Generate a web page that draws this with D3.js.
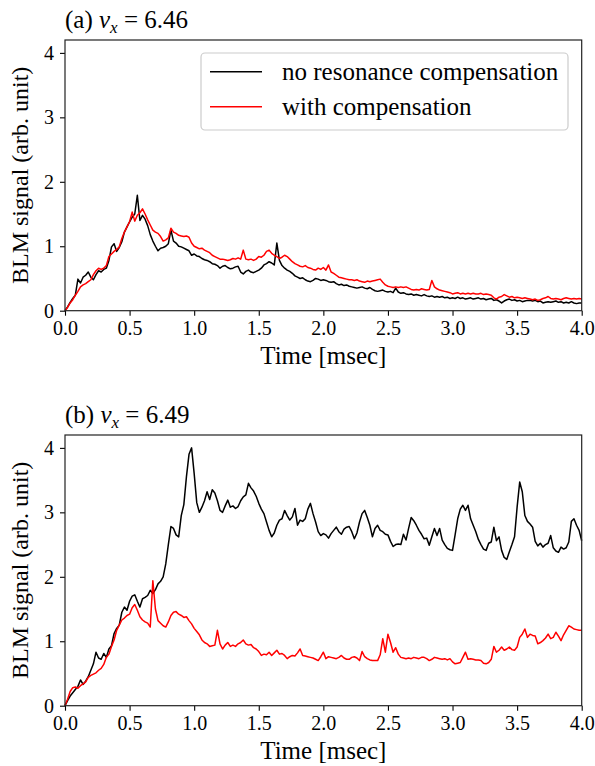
<!DOCTYPE html>
<html>
<head>
<meta charset="utf-8">
<script src="https://cdn.jsdelivr.net/npm/d3@7"></script>
<style>
  html, body { margin: 0; padding: 0; background: #fff; }
  svg text { font-family: "Liberation Serif", "Times New Roman", serif; fill: #000; white-space: pre; }
</style>
</head>
<body>
<svg id="chart" width="595" height="766"></svg>
<script>
// BLM signal sampled every 0.02 ms from 0.0 to 4.0 ms
const sampleStep = 0.02;

// Panel (a): nu_x = 6.46
const noComp646 = [
  0.00, 0.06, 0.13, 0.19, 0.24, 0.49, 0.43, 0.52, 0.55, 0.60,
  0.52, 0.48, 0.56, 0.62, 0.60, 0.64, 0.66, 0.78, 0.99, 1.04,
  0.92, 0.98, 1.07, 1.22, 1.30, 1.38, 1.45, 1.50, 1.79, 1.40,
  1.48, 1.42, 1.32, 1.18, 1.08, 1.00, 0.93, 0.97, 0.98, 1.00,
  1.04, 1.25, 1.08, 1.05, 1.00, 0.99, 0.97, 0.95, 0.93, 0.86,
  0.88, 0.85, 0.84, 0.81, 0.79, 0.78, 0.76, 0.73, 0.72, 0.70,
  0.66, 0.69, 0.70, 0.67, 0.65, 0.66, 0.68, 0.69, 0.60, 0.57,
  0.61, 0.63, 0.60, 0.59, 0.61, 0.63, 0.66, 0.71, 0.73, 0.76,
  0.74, 0.71, 1.05, 0.78, 0.70, 0.66, 0.63, 0.61, 0.58, 0.54,
  0.52, 0.50, 0.51, 0.48, 0.46, 0.45, 0.47, 0.50, 0.49, 0.47,
  0.48, 0.47, 0.45, 0.44, 0.45, 0.42, 0.40, 0.41, 0.39, 0.40,
  0.38, 0.37, 0.36, 0.35, 0.36, 0.37, 0.35, 0.34, 0.36, 0.33,
  0.31, 0.30, 0.31, 0.32, 0.30, 0.29, 0.30, 0.28, 0.35, 0.29,
  0.27, 0.28, 0.26, 0.25, 0.26, 0.24, 0.25, 0.24, 0.23, 0.25,
  0.23, 0.22, 0.23, 0.21, 0.22, 0.21, 0.22, 0.20, 0.21, 0.19,
  0.20, 0.19, 0.21, 0.19, 0.20, 0.18, 0.19, 0.20, 0.18, 0.19,
  0.20, 0.18, 0.19, 0.17, 0.18, 0.19, 0.16, 0.17, 0.15, 0.12,
  0.15, 0.17, 0.18, 0.16, 0.17, 0.15, 0.16, 0.14, 0.15, 0.16,
  0.16, 0.15, 0.16, 0.14, 0.15, 0.12, 0.13, 0.14, 0.13, 0.14,
  0.15, 0.13, 0.14, 0.12, 0.13, 0.12, 0.14, 0.12, 0.11, 0.12,
  0.12
];
const withComp646 = [
  0.00, 0.05, 0.12, 0.17, 0.24, 0.30, 0.37, 0.40, 0.42, 0.45,
  0.48, 0.56, 0.62, 0.66, 0.64, 0.66, 0.70, 0.84, 0.88, 0.92,
  0.95, 0.99, 1.12, 1.22, 1.30, 1.38, 1.53, 1.39, 1.48, 1.52,
  1.58, 1.50, 1.41, 1.33, 1.25, 1.22, 1.20, 1.15, 1.08, 1.10,
  1.13, 1.28, 1.22, 1.20, 1.17, 1.16, 1.15, 1.16, 1.14, 1.05,
  1.00, 0.98, 0.96, 0.97, 0.94, 0.92, 0.90, 0.86, 0.84, 0.82,
  0.80, 0.80, 0.79, 0.78, 0.79, 0.81, 0.80, 0.82, 0.80, 0.94,
  0.80, 0.79, 0.80, 0.78, 0.80, 0.84, 0.83, 0.86, 0.92, 0.94,
  0.89, 0.86, 0.84, 0.81, 0.83, 0.86, 0.84, 0.80, 0.76, 0.73,
  0.71, 0.69, 0.68, 0.70, 0.67, 0.66, 0.64, 0.63, 0.66, 0.64,
  0.67, 0.63, 0.71, 0.60, 0.58, 0.55, 0.52, 0.51, 0.50, 0.49,
  0.48, 0.48, 0.47, 0.48, 0.46, 0.45, 0.44, 0.46, 0.45, 0.46,
  0.47, 0.48, 0.49, 0.44, 0.40, 0.38, 0.37, 0.36, 0.37, 0.36,
  0.37, 0.36, 0.37, 0.35, 0.33, 0.32, 0.33, 0.32, 0.34, 0.33,
  0.32, 0.33, 0.47, 0.37, 0.34, 0.32, 0.31, 0.30, 0.29, 0.28,
  0.26, 0.27, 0.28, 0.26, 0.27, 0.26, 0.27, 0.26, 0.27, 0.26,
  0.26, 0.27, 0.25, 0.26, 0.25, 0.24, 0.20, 0.18, 0.21, 0.22,
  0.25, 0.23, 0.21, 0.22, 0.20, 0.21, 0.20, 0.19, 0.20, 0.19,
  0.18, 0.17, 0.18, 0.16, 0.17, 0.19, 0.20, 0.22, 0.19, 0.18,
  0.19, 0.18, 0.17, 0.19, 0.20, 0.19, 0.18, 0.19, 0.18, 0.19,
  0.18
];

// Panel (b): nu_x = 6.49
const noComp649 = [
  0.00, 0.08, 0.15, 0.20, 0.25, 0.30, 0.40, 0.33, 0.38, 0.45,
  0.55, 0.65, 0.83, 0.74, 0.72, 0.81, 0.75, 0.88, 0.93, 1.12,
  1.20, 1.25, 1.45, 1.53, 1.48, 1.62, 1.70, 1.72, 1.62, 1.53,
  1.66, 1.68, 1.71, 1.79, 1.74, 1.80, 1.89, 1.93, 2.00, 2.20,
  2.50, 2.78, 2.75, 2.65, 2.62, 2.95, 3.12, 3.55, 3.90, 4.00,
  3.60, 3.15, 3.00, 3.08, 3.18, 3.32, 3.20, 3.35, 3.30, 3.18,
  3.03, 3.00, 3.10, 3.19, 3.08, 3.10, 3.06, 3.09, 3.18, 3.24,
  3.27, 3.45, 3.38, 3.33, 3.25, 3.14, 3.05, 2.98, 2.85, 2.72,
  2.62, 2.68, 2.80, 2.88, 2.90, 3.03, 2.95, 2.88, 2.93, 3.06,
  2.80, 2.88, 2.86, 2.90, 3.05, 3.14, 2.98, 2.85, 2.70, 2.64,
  2.67, 2.65, 2.60, 2.67, 2.72, 2.77, 2.70, 2.66, 2.74, 2.77,
  2.78, 2.70, 2.59, 2.68, 2.85, 2.98, 3.03, 2.92, 2.80, 2.62,
  2.75, 2.80, 2.72, 2.70, 2.66, 2.65, 2.55, 2.47, 2.50, 2.51,
  2.50, 2.66, 2.57, 2.75, 2.92, 2.87, 2.80, 2.72, 2.66, 2.59,
  2.60, 2.49, 2.62, 2.75, 2.64, 2.75, 2.57, 2.50, 2.44, 2.42,
  2.41, 2.65, 2.90, 3.05, 3.11, 3.03, 3.11, 2.90, 2.80, 2.70,
  2.58, 2.50, 2.43, 2.41, 2.52, 2.54, 2.77, 2.56, 2.62, 2.41,
  2.30, 2.27, 2.39, 2.50, 2.62, 3.08, 3.47, 3.32, 2.95, 2.86,
  2.82, 2.77, 2.55, 2.48, 2.52, 2.46, 2.50, 2.52, 2.64, 2.45,
  2.40, 2.38, 2.46, 2.43, 2.45, 2.54, 2.86, 2.90, 2.80, 2.72,
  2.56
];
const withComp649 = [
  0.00, 0.10, 0.22, 0.28, 0.29, 0.27, 0.31, 0.34, 0.37, 0.44,
  0.47, 0.49, 0.51, 0.55, 0.58, 0.64, 0.75, 0.80, 0.92, 1.02,
  1.17, 1.25, 1.33, 1.36, 1.40, 1.42, 1.52, 1.57, 1.48, 1.38,
  1.33, 1.30, 1.28, 1.22, 1.94, 1.50, 1.32, 1.28, 1.24, 1.22,
  1.30, 1.40, 1.45, 1.46, 1.42, 1.40, 1.37, 1.38, 1.32, 1.27,
  1.20, 1.15, 1.10, 1.02, 0.98, 0.96, 0.92, 0.93, 0.94, 1.17,
  0.96, 0.88, 0.94, 0.98, 0.92, 0.94, 0.92, 0.96, 0.98, 1.02,
  0.96, 0.94, 0.95, 0.90, 0.88, 0.84, 0.78, 0.80, 0.79, 0.83,
  0.78, 0.82, 0.86, 0.80, 0.81, 0.78, 0.73, 0.76, 0.78, 0.77,
  0.82, 0.88, 0.78, 0.77, 0.76, 0.75, 0.74, 0.72, 0.70, 0.76,
  0.83, 0.73, 0.76, 0.75, 0.74, 0.73, 0.75, 0.78, 0.74, 0.72,
  0.72, 0.75, 0.76, 0.74, 0.70, 0.84, 0.76, 0.73, 0.71, 0.70,
  0.70, 0.70, 0.79, 1.04, 0.83, 1.11, 0.98, 0.83, 0.90, 0.80,
  0.75, 0.74, 0.73, 0.74, 0.73, 0.75, 0.74, 0.73, 0.75, 0.75,
  0.73, 0.70, 0.72, 0.75, 0.74, 0.73, 0.72, 0.73, 0.71, 0.73,
  0.68, 0.65, 0.66, 0.67, 0.75, 0.83, 0.72, 0.73, 0.72, 0.71,
  0.71, 0.70, 0.66, 0.65, 0.67, 0.72, 0.92, 0.83, 0.86, 0.91,
  0.86, 0.88, 0.91, 0.87, 0.86, 0.91, 1.06, 1.11, 1.19, 1.06,
  1.11, 1.09, 1.08, 0.96, 0.98, 1.01, 1.05, 1.11, 1.04, 1.06,
  1.14, 1.08, 1.01, 1.10, 1.17, 1.24, 1.22, 1.19, 1.18, 1.17,
  1.17
];

const xTicks = [0.0, 0.5, 1.0, 1.5, 2.0, 2.5, 3.0, 3.5, 4.0];
const yTicks = [0, 1, 2, 3, 4];
const seriesNames = ["no resonance compensation", "with compensation"];
const seriesColors = ["#000000", "#ff0000"];

const panels = [
  { tag: "(a) ", tune: "6.46", top: 40, series: [noComp646, withComp646], legend: true },
  { tag: "(b) ", tune: "6.49", top: 435, series: [noComp649, withComp649], legend: false }
];

const svg = d3.select("#chart");
const left = 65, right = 581.7, plotH = 270.7;
const tickFont = 20, labelFont = 25;

const x = d3.scaleLinear().domain([0, 4]).range([left, right]);

panels.forEach(p => {
  const bottom = p.top + plotH;
  const y = d3.scaleLinear().domain([0, 4.2]).range([bottom, p.top]);
  const g = svg.append("g");

  // data lines
  const line = d3.line()
    .x((d, i) => x(i * sampleStep))
    .y(d => y(d));
  p.series.forEach((vals, k) => {
    g.append("path")
      .datum(vals)
      .attr("d", line)
      .attr("fill", "none")
      .attr("stroke", seriesColors[k])
      .attr("stroke-width", 1.5)
      .attr("stroke-linejoin", "round");
  });

  // axes
  const xAxis = d3.axisBottom(x).tickValues(xTicks).tickFormat(d3.format(".1f"))
    .tickSize(5).tickPadding(5);
  const yAxis = d3.axisLeft(y).tickValues(yTicks).tickFormat(d3.format("d"))
    .tickSize(5).tickPadding(6);

  const gx = g.append("g").attr("transform", `translate(0,${bottom})`).call(xAxis);
  const gy = g.append("g").attr("transform", `translate(${left},0)`).call(yAxis);
  [gx, gy].forEach(ax => {
    ax.select(".domain").remove();
    ax.selectAll(".tick line").attr("stroke", "#000").attr("stroke-width", 1.1);
    ax.selectAll(".tick text")
      .attr("font-size", tickFont)
      .attr("font-family", "Liberation Serif, Times New Roman, serif")
      .attr("fill", "#000");
  });

  // frame
  g.append("rect")
    .attr("x", left).attr("y", p.top)
    .attr("width", right - left).attr("height", plotH)
    .attr("fill", "none").attr("stroke", "#222").attr("stroke-width", 1.2);

  // axis labels
  g.append("text")
    .attr("x", (left + right) / 2).attr("y", bottom + 53)
    .attr("text-anchor", "middle").attr("font-size", labelFont)
    .text("Time [msec]");
  g.append("text")
    .attr("transform", `translate(28,${(p.top + bottom) / 2}) rotate(-90)`)
    .attr("text-anchor", "middle").attr("font-size", labelFont - 1)
    .text("BLM signal (arb. unit)");

  // panel title
  const t = g.append("text")
    .attr("x", left).attr("y", p.top - 12)
    .attr("font-size", labelFont);
  t.append("tspan").text(p.tag);
  t.append("tspan").attr("font-style", "italic").text("ν");
  t.append("tspan").attr("font-style", "italic").attr("font-size", 17).attr("dy", 5).text("x");
  t.append("tspan").attr("dy", -5).text(" = " + p.tune);

  if (p.legend) {
    const lg = g.append("g");
    lg.append("rect")
      .attr("x", 201).attr("y", 53).attr("width", 367).attr("height", 77)
      .attr("rx", 4).attr("ry", 4)
      .attr("fill", "#fff").attr("fill-opacity", 0.8)
      .attr("stroke", "#cccccc").attr("stroke-width", 1.2);
    seriesNames.forEach((name, k) => {
      const ly = 71.7 + k * 35;
      lg.append("line")
        .attr("x1", 210).attr("x2", 262).attr("y1", ly).attr("y2", ly)
        .attr("stroke", seriesColors[k]).attr("stroke-width", 1.5);
      lg.append("text")
        .attr("x", 282).attr("y", ly + 8)
        .attr("font-size", labelFont)
        .text(name);
    });
  }
});
</script>
</body>
</html>
